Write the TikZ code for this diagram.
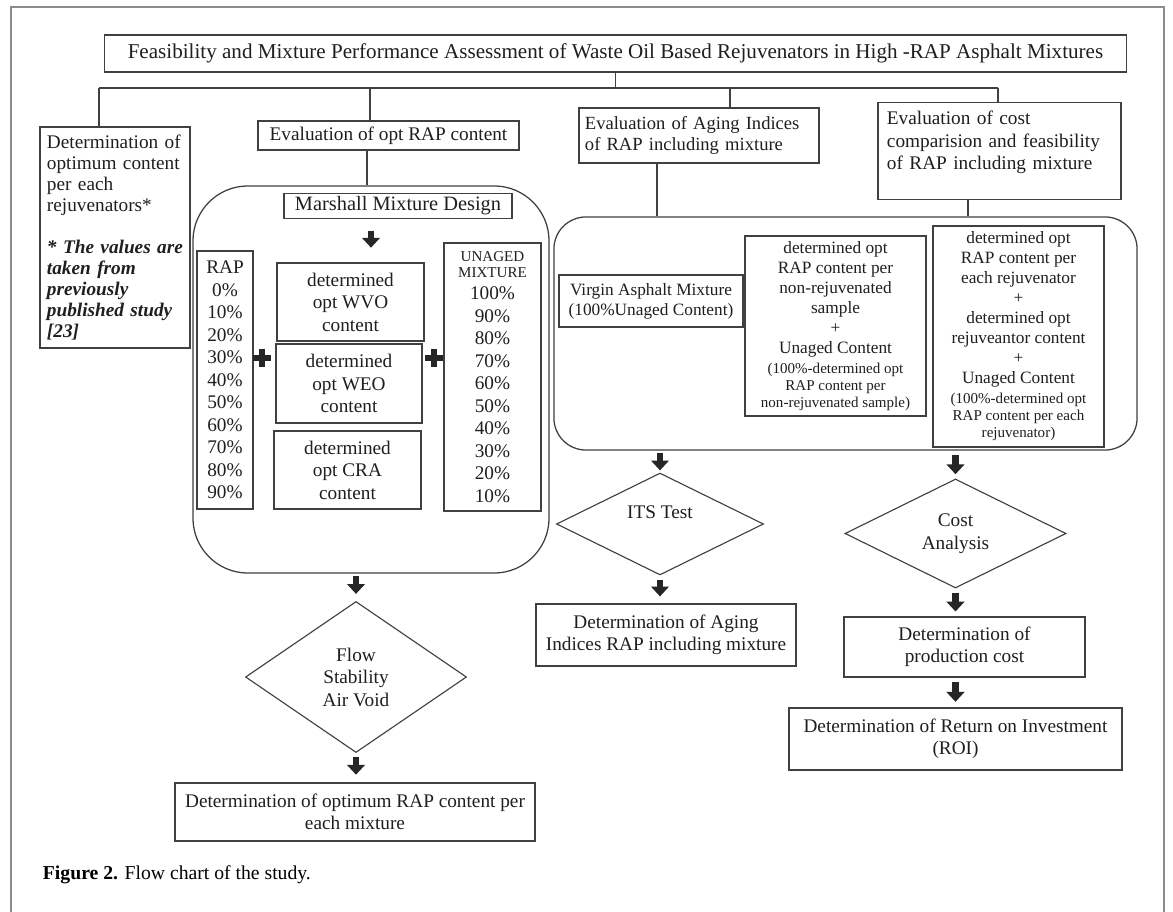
\documentclass[tikz,border=0pt]{standalone}
\usepackage{fontspec}
\setmainfont{Liberation Serif}
\usetikzlibrary{shapes.geometric,arrows.meta}

\definecolor{linec}{gray}{0.25}
\definecolor{framec}{gray}{0.55}
\definecolor{txtc}{gray}{0.12}
\newcommand{\mainsz}{\fontsize{13.7}{16}\selectfont}
\newcommand{\rsz}{\fontsize{12.3}{14.2}\selectfont}
\newcommand{\smsz}{\fontsize{10.7}{12.4}\selectfont}

\begin{document}
\begin{tikzpicture}[
  x=0.025cm, y=-0.025cm,
  font=\mainsz,
  every node/.style={text=txtc},
  box/.style={draw=linec, line width=0.8pt, rectangle, inner sep=2pt, align=center},
  rbox/.style={draw=linec, line width=0.9pt, rectangle, inner sep=0pt},
  diam/.style={draw=linec, line width=0.8pt, diamond, inner sep=0pt, align=center},
  wire/.style={draw=linec, line width=0.8pt},
  blockarr/.style={draw=black!85, line width=4.4pt, -{Triangle[width=12.5pt,length=7pt]},
    shorten <=3pt, shorten >=4pt},
  plussign/.style={inner sep=0pt, minimum size=0.45cm}
]
\fill[white] (0,0) rectangle (1173,912);
\useasboundingbox (0,0) rectangle (1173,912);
\draw[framec, line width=0.9pt] (11,912) -- (11,7) -- (1164,7) -- (1164,912);

% top of the tree
\node[box, font=\fontsize{15}{18}\selectfont, minimum width=25.525cm, minimum height=0.925cm] (title) at (615.5,53.5)
  {Feasibility and Mixture Performance Assessment of Waste Oil Based Rejuvenators in High -RAP Asphalt Mixtures};

\coordinate (d1) at (99,88);
\coordinate (d2) at (370,88);
\coordinate (d3) at (730,88);
\coordinate (d4) at (998,88);

\node[box, align=left, text width=3.4cm, minimum height=5.525cm, inner sep=0.175cm,
  font=\fontsize{13.7}{15}\selectfont] (detopt) at (115,237.5)
  {Determination of\\ optimum content\\ per each\\ rejuvenators*\\[15pt]
   \bfseries\itshape * The values are\\ taken from\\ previously\\ published study\\ {[23]}};
\node[box, minimum width=6.525cm, minimum height=0.725cm] (evalrap) at (388.5,135.5) {Evaluation of opt RAP content};
\node[box, align=left, text width=5.7cm, inner sep=0.15cm, minimum height=1.375cm,
  font=\fontsize{13.2}{14.5}\selectfont] (aging) at (699,135.5)
  {Evaluation of Aging Indices\\ of RAP including mixture};
\node[box, align=left, text width=5.625cm, inner sep=0.225cm, minimum height=2.3cm] (cost) at (999.5,151)
  {Evaluation of cost\\ comparision and feasibility\\ of RAP including mixture\\[-6pt] \strut};

\draw[wire] (title.south) -- (title.south |- d1);
\draw[wire] (d1) -- (d4);
\draw[wire] (d1) -- (d1 |- detopt.north);
\draw[wire] (d2) -- (d2 |- evalrap.north);
\draw[wire] (d3) -- (d3 |- aging.north);
\draw[wire] (d4) -- (d4 |- cost.north);

% Marshall design block
\node[rbox, rounded corners=1.375cm, minimum width=8.9cm, minimum height=9.675cm] (mixbox) at (371,379.5) {};
\node[box, font=\fontsize{14.5}{16}\selectfont, minimum width=5.7cm, minimum height=0.6cm] (marshall) at (398,206) {Marshall Mixture Design};
\node[box, minimum width=1.4cm, minimum height=6.45cm] (rap) at (225,380)
  {RAP\\ 0\%\\ 10\%\\ 20\%\\ 30\%\\ 40\%\\ 50\%\\ 60\%\\ 70\%\\ 80\%\\ 90\%};
\node[box, minimum width=3.675cm, minimum height=1.95cm] (wvo) at (350.5,302) {determined\\ opt WVO\\ content};
\node[box, minimum width=3.65cm, minimum height=1.975cm] (weo) at (349,383.5) {determined\\ opt WEO\\ content};
\node[box, minimum width=3.675cm, minimum height=1.95cm] (cra) at (347.5,470) {determined\\ opt CRA\\ content};
\node[box, minimum width=2.425cm, minimum height=6.7cm] (unaged) at (492.5,377)
  {{\smsz UNAGED}\\[-5pt] {\smsz MIXTURE}\\ 100\%\\ 90\%\\ 80\%\\ 70\%\\ 60\%\\ 50\%\\ 40\%\\ 30\%\\ 20\%\\ 10\%};
\node[plussign] (plusl) at (262,358) {};
\node[plussign] (plusr) at (434,358) {};
\draw[black!85, line width=3.6pt] (plusl.north) -- (plusl.south) (plusl.west) -- (plusl.east);
\draw[black!85, line width=3.6pt] (plusr.north) -- (plusr.south) (plusr.west) -- (plusr.east);

\node[diam, minimum width=5.525cm, minimum height=3.775cm] (flow) at (356,677) {Flow\\ Stability\\ Air Void};
\node[box, minimum width=9cm, minimum height=1.45cm] (optrap) at (355,812)
  {Determination of optimum RAP content per\\ each mixture};

\coordinate (k1) at (367,0);
\draw[wire] (k1 |- evalrap.south) -- (k1 |- mixbox.north);
\draw[blockarr, shorten <=8.5pt, shorten >=10.5pt] (marshall.south -| mixbox.north) -- (wvo.north -| mixbox.north);
\draw[blockarr, shorten <=2pt, shorten >=5pt] (mixbox.south -| flow.north) -- (flow.north);
\draw[blockarr, shorten >=5.5pt] (flow.south) -- (optrap.north -| flow.south);

% aging and cost block
\node[rbox, rounded corners=0.8cm, minimum width=14.575cm, minimum height=5.825cm] (agebox) at (845.5,333.5) {};
\node[box, font=\rsz, minimum width=4.6cm, minimum height=1.3cm] (virgin) at (651,301)
  {Virgin Asphalt Mixture\\ (100\%Unaged Content)};
\node[box, font=\rsz, minimum width=4.525cm, minimum height=4.5cm] (nonrej) at (835.5,326)
  {determined opt\\ RAP content per\\ non-rejuvenated\\ sample\\ +\\ Unaged Content\\
   {\smsz (100\%-determined opt}\\[-2pt] {\smsz RAP content per}\\[-2pt] {\smsz non-rejuvenated sample)}};
\node[box, font=\rsz, minimum width=4.275cm, minimum height=5.525cm] (rej) at (1018.5,336.5)
  {determined opt\\ RAP content per\\ each rejuvenator\\ +\\ determined opt\\ rejuveantor content\\ +\\ Unaged Content\\
   {\smsz (100\%-determined opt}\\[-2pt] {\smsz RAP content per each}\\[-2pt] {\smsz rejuvenator)}};

\coordinate (k2) at (657,0);
\coordinate (k3) at (968,0);
\draw[wire] (k2 |- aging.south) -- (k2 |- agebox.north);
\draw[wire] (k3 |- cost.south) -- (k3 |- agebox.north);

\node[diam, minimum width=5.175cm, minimum height=2.45cm] (its) at (660,524) {ITS Test\\[-4pt] \strut};
\node[box, minimum width=6.5cm, minimum height=1.55cm] (agingres) at (666,635)
  {Determination of Aging\\ Indices RAP including mixture};
\node[diam, minimum width=5.525cm, minimum height=2.725cm] (costdia) at (955.5,533.5) {Cost\\ Analysis};
\node[box, minimum width=6.025cm, minimum height=1.5cm] (prodcost) at (964.5,647)
  {Determination of\\ production cost};
\node[box, minimum width=8.325cm, minimum height=1.55cm] (roi) at (955.5,739)
  {Determination of Return on Investment\\ (ROI)};

\draw[blockarr, shorten <=2pt, shorten >=1.5pt] (agebox.south -| its.north) -- (its.north);
\draw[blockarr, shorten <=3.5pt, shorten >=5pt] (its.south) -- (agingres.north -| its.south);
\draw[blockarr, shorten >=3pt] (agebox.south -| costdia.north) -- (costdia.north);
\draw[blockarr, shorten >=3.5pt] (costdia.south) -- (prodcost.north -| costdia.south);
\draw[blockarr, shorten <=3.5pt] (prodcost.south -| roi.north) -- (roi.north);

\node[anchor=west, text=black, font=\fontsize{14}{16}\selectfont] (caption) at (38,875)
  {\textbf{Figure 2.} Flow chart of the study.};
\end{tikzpicture}
\end{document}
